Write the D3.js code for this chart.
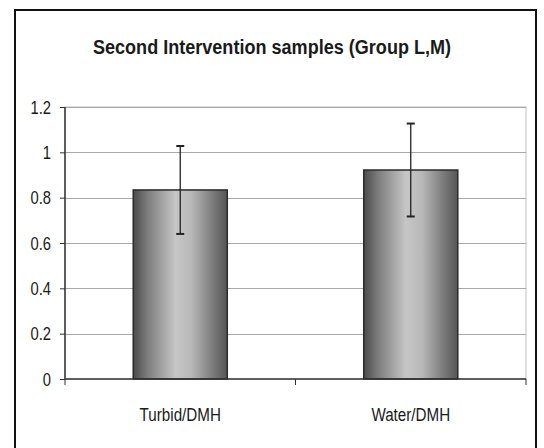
<!DOCTYPE html>
<html><head><meta charset="utf-8">
<script src="https://cdn.jsdelivr.net/npm/d3@7"></script>
<style>body{margin:0;background:#fff}svg{display:block}</style>
</head><body>
<svg id="c" width="544" height="448"></svg>
<script>
const categories = ["Turbid/DMH", "Water/DMH"];
const values = [0.834, 0.922];
const errors = [0.194, 0.205];
const yTicks = [0, 0.2, 0.4, 0.6, 0.8, 1, 1.2];
const tickLabels = ["0", "0.2", "0.4", "0.6", "0.8", "1", "1.2"];
const title = "Second Intervention samples (Group L,M)";

const svg = d3.select("#c");
const font = "'Liberation Sans',Arial,sans-serif";
const L = 65, R = 526, T = 107, B = 379;

svg.append("rect").attr("x", 15).attr("y", 10).attr("width", 521).attr("height", 450)
  .attr("fill", "#fff").attr("stroke", "#111").attr("stroke-width", 2);

svg.append("text").attr("transform", "translate(272,54) scale(0.86,1)").attr("text-anchor", "middle")
  .attr("font-family", font).attr("font-weight", "bold").attr("font-size", 21)
  .attr("fill", "#1a1a1a").text(title);

const y = d3.scaleLinear().domain([0, 1.2]).range([B, T]);
const x = d3.scaleBand().domain(categories).range([L, R]).padding(0);
const bw = x.bandwidth() * 0.408;

const defs = svg.append("defs");
const g = defs.append("linearGradient").attr("id", "bg").attr("x1", "0").attr("x2", "1").attr("y1", "0").attr("y2", "0");
[[0, "#4a4a4a"], [0.15, "#7c7c7c"], [0.45, "#c6c6c6"], [0.62, "#b8b8b8"], [0.85, "#7a7a7a"], [1, "#555555"]]
  .forEach(([o, c]) => g.append("stop").attr("offset", o).attr("stop-color", c));

// plot area border
svg.append("rect").attr("x", L).attr("y", T).attr("width", R - L).attr("height", B - T)
  .attr("fill", "none").attr("stroke", "#c0c0c0").attr("stroke-width", 1);

// gridlines
svg.append("g").selectAll("line").data(yTicks.filter(d => d > 0)).join("line")
  .attr("x1", L).attr("x2", R).attr("y1", d => Math.round(y(d)) + 0.5).attr("y2", d => Math.round(y(d)) + 0.5)
  .attr("stroke", "#a8a8a8").attr("stroke-width", 1);

// bars
svg.append("g").selectAll("rect").data(categories).join("rect")
  .attr("x", d => x(d) + (x.bandwidth() - bw) / 2)
  .attr("y", (d, i) => y(values[i]))
  .attr("width", bw)
  .attr("height", (d, i) => y(0) - y(values[i]))
  .attr("fill", "url(#bg)").attr("stroke", "#2a2a2a").attr("stroke-width", 1.5);

// error bars
const eg = svg.append("g").attr("stroke", "#222").attr("stroke-width", 1.3);
categories.forEach((c, i) => {
  const cx = x(c) + x.bandwidth() / 2;
  const hi = y(values[i] + errors[i]), lo = y(values[i] - errors[i]);
  eg.append("line").attr("x1", cx).attr("x2", cx).attr("y1", hi).attr("y2", lo);
  eg.append("line").attr("x1", cx - 4).attr("x2", cx + 4).attr("y1", hi).attr("y2", hi).attr("stroke-width", 2);
  eg.append("line").attr("x1", cx - 4).attr("x2", cx + 4).attr("y1", lo).attr("y2", lo).attr("stroke-width", 2);
});

// y axis
const ya = svg.append("g").attr("transform", `translate(${L},0)`)
  .call(d3.axisLeft(y).tickValues(yTicks).tickFormat("").tickSize(5));
ya.select(".domain").attr("stroke", "#333").attr("stroke-width", 1.5).attr("d", `M0,${T}V${B}`);
ya.selectAll(".tick line").attr("stroke", "#333");
svg.append("g").selectAll("text").data(yTicks).join("text")
  .attr("transform", d => `translate(${L - 14},${y(d) + 6.5}) scale(0.82,1)`)
  .attr("text-anchor", "end").attr("font-family", font).attr("font-size", 18).attr("fill", "#1a1a1a")
  .text((d, i) => tickLabels[i]);

// x axis
const xa = svg.append("g").attr("transform", `translate(0,${B})`)
  .call(d3.axisBottom(x).tickSize(0).tickFormat(""));
xa.select(".domain").attr("stroke", "#333").attr("stroke-width", 1.5).attr("d", `M${L},0H${R}`);
svg.append("g").selectAll("text").data(categories).join("text")
  .attr("transform", d => `translate(${x(d) + x.bandwidth() / 2},${B + 42}) scale(0.8,1)`)
  .attr("text-anchor", "middle").attr("font-family", font).attr("font-size", 19).attr("fill", "#1a1a1a")
  .text(d => d);
// category separators ticks
svg.append("g").selectAll("line").data([L, (L + R) / 2, R]).join("line")
  .attr("x1", d => d).attr("x2", d => d).attr("y1", B).attr("y2", B + 6)
  .attr("stroke", "#333").attr("stroke-width", 1);
</script>
</body></html>
